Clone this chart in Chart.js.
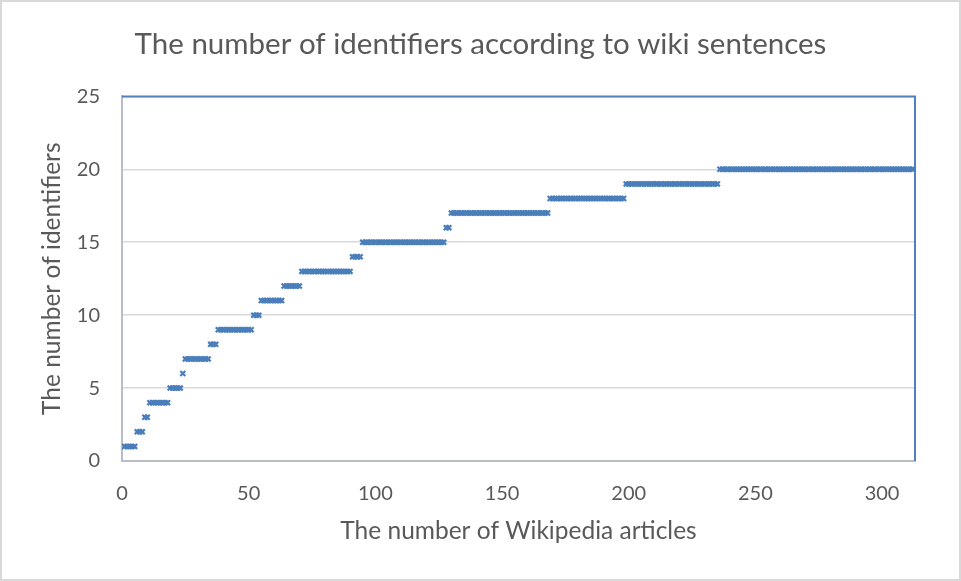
<!DOCTYPE html>
<html>
<head>
<meta charset="utf-8">
<script src="https://cdn.jsdelivr.net/npm/chart.js@4/dist/chart.umd.min.js"></script>
<style>
  html, body { margin: 0; padding: 0; background: #fff; }
  #wrap { width: 961px; height: 581px; position: relative; }
</style>
</head>
<body>
<div id="wrap"><canvas id="chart" width="961" height="581"></canvas></div>
<script>
// Number of identifiers found for each Wikipedia article (articles numbered 1..312)
const identifiers = [
  1, 1, 1, 1, 1,
  2, 2, 2,
  3, 3,
  4, 4, 4, 4, 4, 4, 4, 4,
  5, 5, 5, 5, 5,
  6,
  7, 7, 7, 7, 7, 7, 7, 7, 7, 7,
  8, 8, 8,
  9, 9, 9, 9, 9, 9, 9, 9, 9, 9, 9, 9, 9, 9,
  10, 10, 10,
  11, 11, 11, 11, 11, 11, 11, 11, 11,
  12, 12, 12, 12, 12, 12, 12,
  13, 13, 13, 13, 13, 13, 13, 13, 13, 13, 13, 13, 13, 13, 13, 13, 13, 13, 13, 13,
  14, 14, 14, 14,
  15, 15, 15, 15, 15, 15, 15, 15, 15, 15, 15, 15, 15, 15, 15, 15, 15, 15, 15, 15,
  15, 15, 15, 15, 15, 15, 15, 15, 15, 15, 15, 15, 15,
  16, 16,
  17, 17, 17, 17, 17, 17, 17, 17, 17, 17, 17, 17, 17, 17, 17, 17, 17, 17, 17, 17,
  17, 17, 17, 17, 17, 17, 17, 17, 17, 17, 17, 17, 17, 17, 17, 17, 17, 17, 17,
  18, 18, 18, 18, 18, 18, 18, 18, 18, 18, 18, 18, 18, 18, 18, 18, 18, 18, 18, 18,
  18, 18, 18, 18, 18, 18, 18, 18, 18, 18,
  19, 19, 19, 19, 19, 19, 19, 19, 19, 19, 19, 19, 19, 19, 19, 19, 19, 19, 19, 19,
  19, 19, 19, 19, 19, 19, 19, 19, 19, 19, 19, 19, 19, 19, 19, 19, 19,
  20, 20, 20, 20, 20, 20, 20, 20, 20, 20, 20, 20, 20, 20, 20, 20, 20, 20, 20, 20,
  20, 20, 20, 20, 20, 20, 20, 20, 20, 20, 20, 20, 20, 20, 20, 20, 20, 20, 20, 20,
  20, 20, 20, 20, 20, 20, 20, 20, 20, 20, 20, 20, 20, 20, 20, 20, 20, 20, 20, 20,
  20, 20, 20, 20, 20, 20, 20, 20, 20, 20, 20, 20, 20, 20, 20, 20, 20
];
// Article numbers (x categories)
const articles = identifiers.map((_, i) => i + 1);

// Axis ranges and tick steps
const xRange = [0, 313];
const xStep = 50;
const yRange = [0, 25];
const yStep = 5;

const titleText = 'The number of identifiers according to wiki sentences';
const xTitle = 'The number of Wikipedia articles';
const yTitle = 'The number of identifiers';

const points = articles.map((a, i) => ({ x: a, y: identifiers[i] }));

const FONT = 'Lato, "Open Sans", sans-serif';
const TEXT = '#595959';

// Outer frame and the blue top/right edges of the plot area
const framePlugin = {
  id: 'frame',
  beforeDraw(chart) {
    const ctx = chart.ctx;
    ctx.save();
    ctx.fillStyle = '#ffffff';
    ctx.fillRect(0, 0, chart.width, chart.height);
    ctx.strokeStyle = '#d9d9d9';
    ctx.lineWidth = 2;
    ctx.strokeRect(1, 1, chart.width - 2, chart.height - 2);
    ctx.restore();
  },
  beforeDatasetsDraw(chart) {
    const { ctx, chartArea: a } = chart;
    ctx.save();
    ctx.strokeStyle = '#4f81bd';
    ctx.lineWidth = 2;
    ctx.beginPath();
    ctx.moveTo(a.left, a.top);
    ctx.lineTo(a.right, a.top);
    ctx.lineTo(a.right, a.bottom);
    ctx.stroke();
    ctx.restore();
  }
};

new Chart(document.getElementById('chart'), {
  type: 'scatter',
  data: {
    datasets: [{
      data: points,
      pointStyle: 'crossRot',
      pointRadius: 3.5,
      pointHoverRadius: 3.5,
      borderColor: '#4a7ebb',
      backgroundColor: '#4a7ebb',
      pointBorderWidth: 2.2,
      showLine: false
    }]
  },
  plugins: [framePlugin],
  options: {
    responsive: false,
    animation: false,
    events: [],
    layout: { padding: 0 },
    plugins: {
      legend: { display: false },
      tooltip: { enabled: false },
      title: {
        display: true,
        text: titleText,
        color: TEXT,
        font: { family: FONT, size: 29.5, weight: 'normal' },
        padding: { top: 27, bottom: 34 }
      }
    },
    scales: {
      x: {
        type: 'linear',
        min: xRange[0],
        max: xRange[1],
        afterFit(scale) { scale.height = 120; },
        grid: { display: false, drawTicks: false },
        border: { display: true, color: '#b9bdc6', width: 2 },
        ticks: {
          stepSize: xStep,
          includeBounds: false,
          padding: 21,
          color: TEXT,
          font: { family: FONT, size: 20 },
          maxRotation: 0
        },
        title: {
          display: true,
          text: xTitle,
          color: TEXT,
          font: { family: FONT, size: 24.5 },
          padding: { top: 0, bottom: 35 }
        }
      },
      y: {
        min: yRange[0],
        max: yRange[1],
        afterFit(scale) { scale.width = 122; },
        grid: { color: '#d9d9d9', lineWidth: 1.5, drawTicks: false },
        border: { display: true, color: '#b9bdc6', width: 2 },
        ticks: {
          stepSize: yStep,
          padding: 22,
          color: TEXT,
          font: { family: FONT, size: 20 }
        },
        title: {
          display: true,
          text: yTitle,
          color: TEXT,
          font: { family: FONT, size: 24.5 },
          padding: { top: 37, bottom: 0 }
        }
      },
      // empty right margin so the title stays centred on the whole canvas
      yRight: {
        position: 'right',
        min: yRange[0],
        max: yRange[1],
        afterFit(scale) { scale.width = 46; },
        grid: { display: false, drawTicks: false },
        border: { display: false },
        ticks: { display: false }
      }
    }
  }
});
</script>
</body>
</html>
